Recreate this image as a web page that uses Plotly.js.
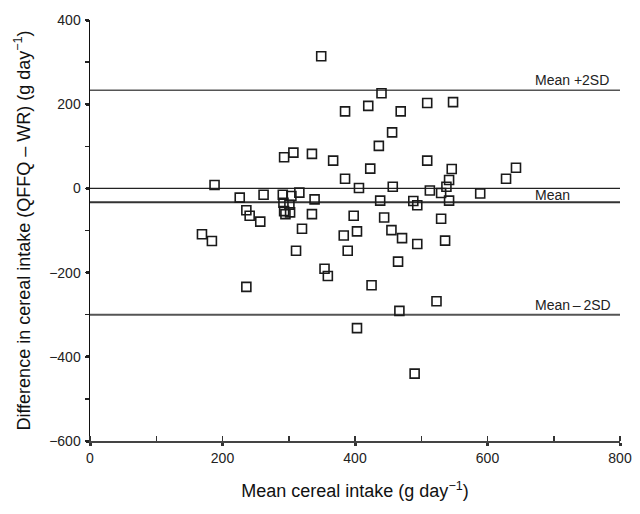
<!DOCTYPE html>
<html>
<head>
<meta charset="utf-8">
<script src="https://cdn.plot.ly/plotly-3.0.1.min.js"></script>
<style>
  html, body { margin: 0; padding: 0; background: #ffffff; }
  #chart { width: 640px; height: 514px; }
</style>
</head>
<body>
<div id="chart"></div>
<script>
// Mean of the two methods (g/day)
var meanIntake = [349,440,385,420,469,509,548,456,436,509,423,385,406,457,546,542,643,
  628,513,530,538,589,438,488,494,542,398,444,530,403,455,383,471,494,536,389,465,
  425,523,467,403,490,293,307,335,367,188,226,262,291,304,316,339,292,301,293,302,
  295,236,241,257,335,320,169,184,311,354,359,236];
// Difference QFFQ - WR (g/day)
var difference = [314,226,183,196,183,203,205,133,101,66,47,23,1,4,46,20,49,
  23,-5,-11,4,-12,-29,-30,-40,-29,-65,-69,-72,-102,-99,-112,-118,-132,-124,-148,-174,
  -230,-268,-291,-332,-440,74,85,82,66,8,-22,-15,-15,-18,-10,-26,-34,-39,-54,-57,
  -61,-52,-65,-79,-61,-96,-109,-125,-148,-191,-208,-234];

var meanDiff = -33;
var upperLoA = 233;
var lowerLoA = -300;
var zeroLine = 0;

var lineLabels = ['Mean +2SD', 'Mean', 'Mean\u2009\u2013\u20092SD'];
var labelX = 669;

var yTickVals = [-600, -400, -200, 0, 200, 400];
var yTickText = ['\u2212600', '\u2212400', '\u2212200', '0', '200', '400'];
var xTickVals = [0, 200, 400, 600, 800];
var xTickText = ['0', '200', '400', '600', '800'];

var FONT = 'Liberation Sans, Arial, Helvetica, sans-serif';

var trace = {
  x: meanIntake,
  y: difference,
  type: 'scatter',
  mode: 'markers',
  marker: {
    symbol: 'square-open',
    size: 9,
    color: '#1a1a1a',
    line: { width: 1.6, color: '#1a1a1a' }
  },
  hoverinfo: 'x+y',
  showlegend: false
};

function hline(v, color, width) {
  return { type: 'line', xref: 'paper', x0: 0, x1: 1, yref: 'y', y0: v, y1: v,
           line: { color: color, width: width }, layer: 'below' };
}

var layout = {
  width: 640,
  height: 514,
  margin: { l: 90, r: 20, t: 20, b: 73 },
  paper_bgcolor: '#ffffff',
  plot_bgcolor: '#ffffff',
  font: { family: FONT, size: 14, color: '#222' },
  showlegend: false,
  xaxis: {
    range: [0, 800],
    tickvals: xTickVals,
    ticktext: xTickText,
    ticks: 'outside',
    ticklen: 3,
    tickwidth: 3,
    tickcolor: '#333',
    minor: { dtick: 100, ticks: 'inside', ticklen: 5, tickwidth: 1.5, tickcolor: '#333' },
    showline: true,
    linecolor: '#444',
    linewidth: 2,
    showgrid: false,
    zeroline: false,
    ticklabelstandoff: 0,
    tickfont: { family: FONT, size: 14, color: '#222' },
    title: { text: 'Mean cereal intake (g day<sup>\u22121</sup>)', font: { family: FONT, size: 18, color: '#111' }, standoff: 20 }
  },
  yaxis: {
    range: [-600, 400],
    tickvals: yTickVals,
    ticktext: yTickText,
    ticks: 'outside',
    ticklen: 3,
    tickwidth: 3,
    tickcolor: '#222',
    minor: { dtick: 100, ticks: 'outside', ticklen: 4, tickwidth: 1.5, tickcolor: '#222' },
    showline: true,
    linecolor: '#111',
    linewidth: 1.5,
    showgrid: false,
    zeroline: false,
    ticklabelstandoff: 2,
    tickfont: { family: FONT, size: 14, color: '#222' },
    title: { text: 'Difference in cereal intake (QFFQ \u2013 WR) (g day<sup>\u22121</sup>)', font: { family: FONT, size: 18, color: '#111' }, standoff: 14 }
  },
  shapes: [
    hline(upperLoA, '#555', 1.6),
    hline(zeroLine, '#222', 1.3),
    hline(meanDiff, '#333', 2),
    hline(lowerLoA, '#555', 2)
  ],
  annotations: [
    { x: labelX, y: upperLoA, xref: 'x', yref: 'y', text: lineLabels[0], showarrow: false,
      xanchor: 'left', yanchor: 'bottom', font: { family: FONT, size: 14, color: '#222' } },
    { x: labelX, y: (zeroLine + meanDiff) / 2, xref: 'x', yref: 'y', text: lineLabels[1], showarrow: false,
      xanchor: 'left', yanchor: 'middle', font: { family: FONT, size: 14, color: '#222' } },
    { x: labelX, y: lowerLoA, xref: 'x', yref: 'y', text: lineLabels[2], showarrow: false,
      xanchor: 'left', yanchor: 'bottom', font: { family: FONT, size: 14, color: '#222' } }
  ]
};

Plotly.newPlot('chart', [trace], layout, { staticPlot: true, displayModeBar: false });
</script>
</body>
</html>
